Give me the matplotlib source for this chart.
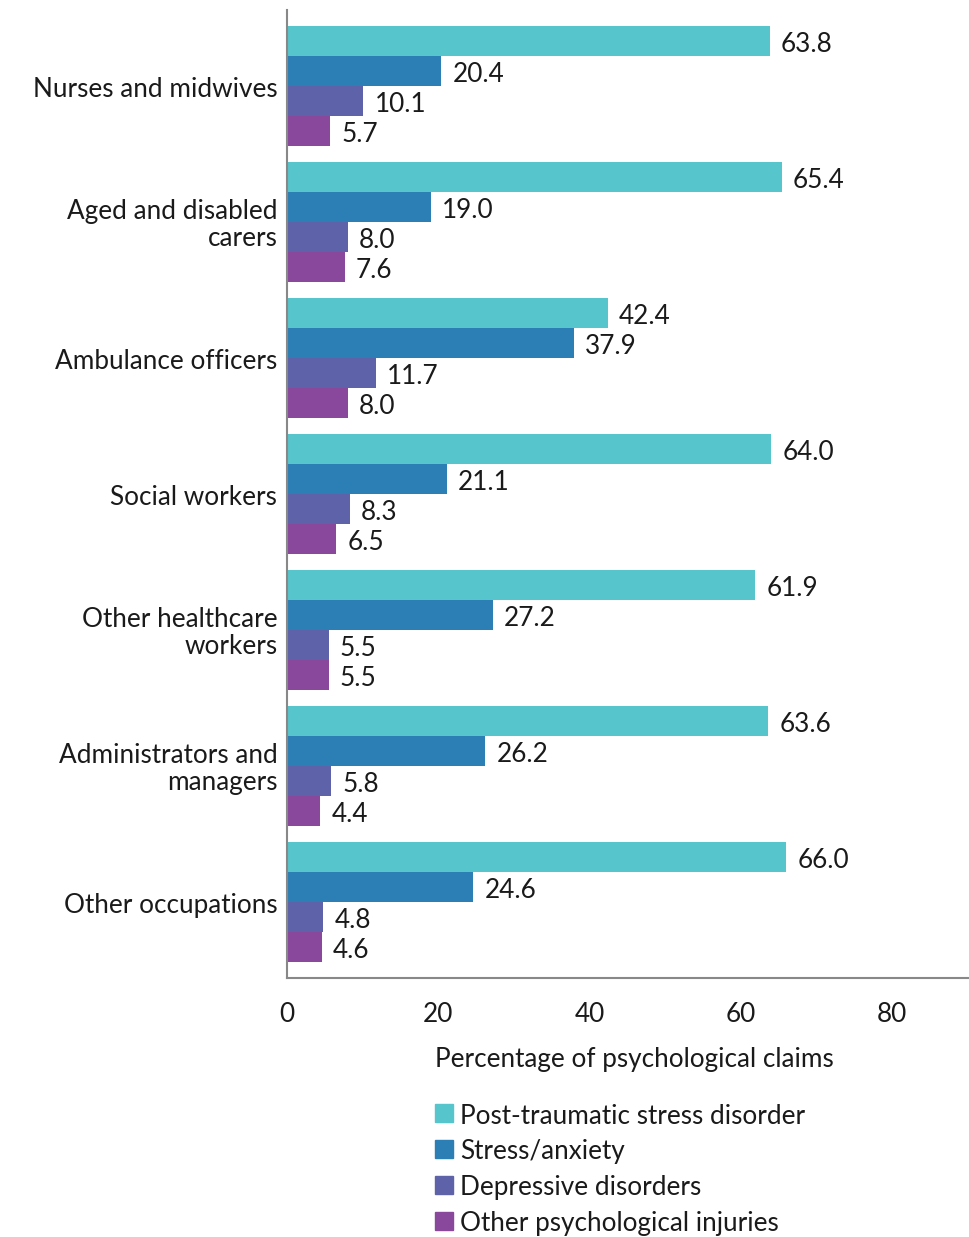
import numpy as np
import matplotlib.pyplot as plt
from matplotlib.patches import Rectangle

plt.rcParams['font.family'] = ['Lato', 'DejaVu Sans']

occupations = ['Nurses and midwives', 'Aged and disabled\ncarers', 'Ambulance officers',
               'Social workers', 'Other healthcare\nworkers', 'Administrators and\nmanagers',
               'Other occupations']
series_names = ['Post-traumatic stress disorder', 'Stress/anxiety',
                'Depressive disorders', 'Other psychological injuries']
ptsd = [63.8, 65.4, 42.4, 64.0, 61.9, 63.6, 66.0]
stress = [20.4, 19.0, 37.9, 21.1, 27.2, 26.2, 24.6]
depressive = [10.1, 8.0, 11.7, 8.3, 5.5, 5.8, 4.8]
other = [5.7, 7.6, 8.0, 6.5, 5.5, 4.4, 4.6]
colors = ['#57c5cc', '#2c7fb5', '#5e62a9', '#8a489c']

FS = 18.8
TXT = '#1a1a1a'

W, H = 970, 1237
fig = plt.figure(figsize=(W / 100, H / 100), dpi=100)
ax = fig.add_axes([287 / W, 1 - 978 / H, (968 - 287) / W, (978 - 10) / H])

bar_h = 30 / 136
y = np.arange(len(occupations))
for k, (vals, col) in enumerate(zip([ptsd, stress, depressive, other], colors)):
    pos = y + (k - 1.5) * bar_h
    ax.barh(pos, vals, height=bar_h, color=col, label=series_names[k])
    for p, v in zip(pos, vals):
        ax.annotate(f'{v:.1f}', (v, p), xytext=(8, -2.5), textcoords='offset points',
                    va='center', ha='left', fontsize=FS, color=TXT)

margin = 2 * bar_h + 16 / 136
ax.set_ylim(len(occupations) - 1 + margin, -margin)
ax.set_xlim(0, 90)
ax.set_yticks([])
# category names placed by hand, right-aligned against the axis
for yi, name in zip(y, occupations):
    ax.annotate(name, (0, yi), xycoords=('axes fraction', 'data'),
                xytext=(-7, -2.2), textcoords='offset points', ha='right',
                va='center', fontsize=FS, color=TXT, linespacing=1.08,
                multialignment='right')
ax.set_xticks([0, 20, 40, 60, 80])
ax.tick_params(axis='x', length=0, pad=17, labelsize=FS, labelcolor=TXT)
for s in ['top', 'right']:
    ax.spines[s].set_visible(False)
for s in ['left', 'bottom']:
    ax.spines[s].set_color('#888888')
    ax.spines[s].set_linewidth(1.5)

fig.text(435 / W, 1 - 1059 / H, 'Percentage of psychological claims',
         fontsize=FS, color=TXT, va='center', ha='left')

# legend drawn by hand as square swatches with labels
for k, name in enumerate(series_names):
    yc = 1113 + 36 * k
    fig.patches.append(Rectangle((435 / W, 1 - (yc + 9) / H), 18 / W, 18 / H,
                                 transform=fig.transFigure, color=colors[k]))
    fig.text(460 / W, 1 - (yc + 3) / H, name, fontsize=FS, color=TXT,
             va='center', ha='left')

fig.savefig('out.png', dpi=100)
